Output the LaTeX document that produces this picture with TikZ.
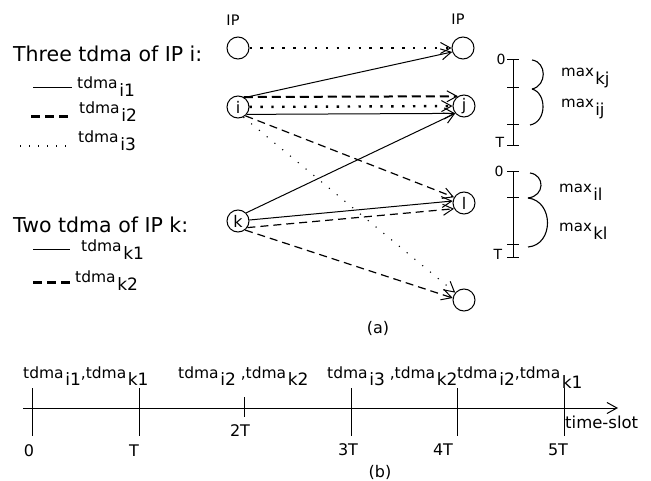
\documentclass[tikz,border=0pt]{standalone}
\usepackage{fontspec}
\setmainfont{DejaVu Sans}
\usetikzlibrary{arrows.meta}
\newcommand\sbs[1]{\raisebox{-0.5em}{\kern0.1em\scalebox{1.1}{#1}}}
\newcommand\fs[1]{\fontsize{#1}{#1}\selectfont}

\begin{document}
\begin{tikzpicture}[x=1pt, y=-1pt,
  >={Straight Barb[length=10pt, width=11pt, line width=1pt 0]},
  ipnode/.style={circle, draw, line width=1pt, minimum size=22pt, inner sep=0pt, font=\fs{16}},
  iptitle/.style={font=\fs{14.5}},
  biglabel/.style={anchor=base west, inner sep=0pt, font=\fs{20.5}},
  tdmalabel/.style={anchor=base west, inner sep=0pt, font=\fs{15.5}},
  slotlabel/.style={anchor=base west, inner sep=0pt, font=\fs{15.5}},
  maxlabel/.style={anchor=base west, inner sep=0pt, font=\fs{15}},
  ticklabel/.style={inner sep=0pt, font=\fs{16}},
  solidline/.style={line width=1pt},
  dashline/.style={line width=1.2pt, dash pattern=on 8pt off 5pt},
  dashthick/.style={line width=2pt, dash pattern=on 9pt off 5pt},
  dotthick/.style={line width=2.4pt, dash pattern=on 2.4pt off 8.5pt},
  dotline/.style={line width=1.1pt, dash pattern=on 1.1pt off 9pt}
]
\useasboundingbox (0,0) rectangle (651,481);

% IP nodes
\node[iptitle] (ipl) at (233,20) {IP};
\node[iptitle] (ipr) at (458,19) {IP};
\node[ipnode] (A) at (238,48) {};
\node[ipnode] (i) at (238,107) {i};
\node[ipnode] (k) at (238,221) {k};
\node[ipnode] (B) at (463,48) {};
\node[ipnode] (j) at (464,106) {j};
\node[ipnode] (l) at (464,203) {l};
\node[ipnode] (D) at (464,300) {};

% legend of IP i and IP k
\node[biglabel] (three) at (13,62) {Three tdma of IP i:};
\draw[solidline] (33,88) -- (72,88);
\node[tdmalabel] (li1) at (77,89) {tdma\sbs{i1}};
\draw[line width=3pt, dash pattern=on 9pt off 5pt] (31,117) -- (72,117);
\node[tdmalabel] (li2) at (79,114) {tdma\sbs{i2}};
\draw[dotline, dash pattern=on 1pt off 8pt] (20,146) -- (70,146);
\node[tdmalabel] (li3) at (78,143) {tdma\sbs{i3}};
\node[biglabel] (two) at (13,233) {Two tdma of IP k:};
\draw[solidline] (33,250) -- (70,250);
\node[tdmalabel] (lk1) at (81,252) {tdma\sbs{k1}};
\draw[line width=3pt, dash pattern=on 9pt off 5pt] (33,283) -- (74,283);
\node[tdmalabel] (lk2) at (75,283) {tdma\sbs{k2}};

% tdma connections
\draw[dotthick,->] (A) -- (B);
\draw[solidline,->] (i.55) -- (B.200);
\draw[dashthick,->] (i.60) -- (j.122);
\draw[dotthick,->] (i) -- (j);
\draw[solidline,->] (i.-40) -- (j.-140);
\draw[dashline,->] (i.-50) -- (l.150);
\draw[dotline,->] (i.-62) -- (D.140);
\draw[solidline,->] (k.45) -- (j.-140);
\draw[solidline,->] (k.5) -- (l.170);
\draw[dashline,->] (k.-35) -- (l.-150);
\draw[dashline,->] (k.-52) -- (D.170);

% time scales at j and l
\draw[line width=1pt] (513,60) -- (513,146);
\foreach \y in {60,88,125,146} \draw[line width=1pt] (507,\y) -- (519,\y);
\node[ticklabel, font=\fs{14}] (zj) at (501,59) {0};
\node[ticklabel, font=\fs{14}] (tj) at (500,142) {T};
\draw[line width=1.1pt] (532,60) .. controls (547,62) and (547,86) .. (532,89);
\draw[line width=1.1pt] (532,89) .. controls (547,93) and (547,122) .. (530,125);
\node[maxlabel] (mkj) at (561,77) {max\sbs{kj}};
\node[maxlabel] (mij) at (561,108) {max\sbs{ij}};
\draw[line width=1pt] (513,172) -- (513,258);
\foreach \y in {172,198,245,258} \draw[line width=1pt] (507,\y) -- (519,\y);
\node[ticklabel, font=\fs{14}] (zl) at (499,171) {0};
\node[ticklabel, font=\fs{14}] (tl) at (498,254) {T};
\draw[line width=1.1pt] (530,173) .. controls (545,175) and (545,196) .. (528,198);
\draw[line width=1.1pt] (528,198) .. controls (554,201) and (554,245) .. (528,247);
\node[maxlabel] (mil) at (559,193) {max\sbs{il}};
\node[maxlabel] (mkl) at (559,232) {max\sbs{kl}};

\node[ticklabel] (capa) at (378,328) {(a)};

% time-slot axis
\coordinate (t0) at (23,408);
\coordinate (t1) at (618,408);
\draw[line width=1pt,->] (t0) -- (t1);
\foreach \x in {32,139,351,457,564} \draw[line width=1pt] (\x,388) -- (\x,436);
\draw[line width=1pt] (244,397) -- (244,417);
\node[ticklabel] (s0) at (29,451) {0};
\node[ticklabel] (s1) at (134,451) {T};
\node[ticklabel] (s2) at (240,431) {2T};
\node[ticklabel] (s3) at (348,450) {3T};
\node[ticklabel] (s4) at (443,450) {4T};
\node[ticklabel] (s5) at (558,450) {5T};
\node[ticklabel, anchor=west, font=\fs{16.5}] (slot) at (565,422) {time-slot};
\node[slotlabel] (p1) at (23,378) {tdma\sbs{i1},tdma\sbs{k1}};
\node[slotlabel] (p2) at (178,378) {tdma\sbs{i2} ,tdma\sbs{k2}};
\node[slotlabel] (p3) at (327,378) {tdma\sbs{i3} ,tdma\sbs{k2}};
\node[slotlabel] (p4) at (457,378) {tdma\sbs{i2},tdma\raisebox{-0.2em}{\sbs{k1}}};
\node[ticklabel] (capb) at (380,472) {(b)};
\end{tikzpicture}
\end{document}
